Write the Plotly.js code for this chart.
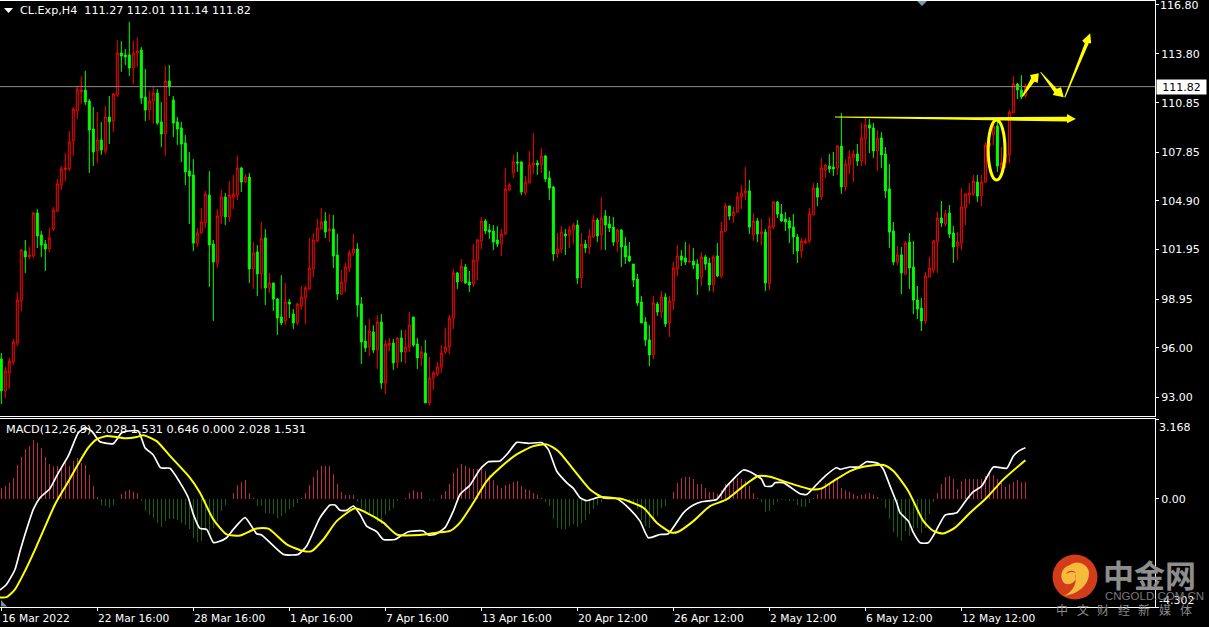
<!DOCTYPE html>
<html><head><meta charset="utf-8">
<script src="https://cdn.plot.ly/plotly-3.0.1.min.js"></script>
<style>html,body{margin:0;padding:0;background:#000}#c{width:1209px;height:627px}</style>
</head><body><div id="c"></div>
<script>
const barOpen=[95.31,93.38,94.47,95.13,96.28,98.83,101.86,101.50,101.56,104.16,
102.83,102.28,101.98,103.19,104.28,105.86,106.80,106.83,108.53,110.34,
111.50,111.62,110.95,109.25,107.92,108.59,107.92,109.98,109.74,111.31,
113.86,113.74,113.74,112.95,113.86,114.04,111.19,110.40,110.95,111.43,
109.68,108.95,112.16,111.01,109.68,109.31,108.40,106.71,106.47,102.34,
102.95,103.56,105.25,102.28,101.13,103.98,105.13,103.92,105.13,105.25,
106.89,106.04,106.34,100.77,101.80,100.47,102.65,99.62,99.92,98.95,
97.86,97.62,98.77,98.04,97.50,98.53,99.01,99.56,100.77,102.47,
103.19,103.68,103.07,103.19,101.62,99.25,99.98,100.83,101.74,101.98,
98.65,96.40,96.04,96.95,95.86,97.56,93.86,96.16,96.28,95.13,
96.59,95.74,96.04,97.86,96.22,95.38,95.68,92.65,94.16,94.40,
94.83,95.74,96.04,97.80,100.53,100.04,100.89,99.98,99.86,101.25,
102.47,103.68,103.13,103.07,102.53,102.28,102.89,105.56,106.59,107.25,
107.25,105.37,105.98,107.07,107.19,107.07,107.62,106.28,105.74,101.68,
101.98,102.89,102.83,103.13,103.43,100.22,102.28,102.10,102.71,103.74,
102.83,103.98,103.50,103.31,102.40,103.13,102.16,101.56,101.07,100.16,
98.77,97.56,96.47,95.56,98.65,98.16,99.07,97.50,98.83,100.77,
101.56,101.44,101.19,101.25,101.07,100.28,101.50,101.13,99.80,101.56,
100.34,103.07,104.59,103.98,104.22,105.13,105.37,105.50,102.83,103.68,
102.89,103.01,99.86,103.31,104.83,104.10,103.80,103.68,103.31,102.71,
101.86,102.34,102.47,104.04,105.68,105.13,106.77,107.01,106.95,106.89,
108.22,105.74,107.07,107.50,107.74,107.31,108.65,109.50,109.31,107.92,
108.71,107.74,105.62,103.07,101.19,101.62,100.47,102.40,100.89,98.89,
98.40,97.62,100.28,100.71,102.40,103.86,103.50,104.16,102.95,102.16,
102.34,104.47,105.25,105.31,106.04,105.19,106.04,108.22,108.89,109.43,
106.89,107.19,107.68,110.22,111.98,111.62,111.27];
const barHigh=[95.68,94.83,95.38,96.53,99.38,101.98,102.53,102.10,104.22,104.40,
103.07,102.53,103.25,104.53,106.22,107.01,107.80,109.13,110.59,111.86,
112.46,112.77,111.07,110.59,110.28,109.68,110.65,111.25,111.43,114.65,
114.59,114.10,115.74,114.59,114.83,114.22,112.89,111.56,111.80,111.68,
110.89,113.07,113.13,111.25,109.98,109.68,108.89,107.86,107.43,103.25,
104.47,105.50,106.71,102.53,104.40,105.56,105.37,106.10,106.47,107.62,
106.95,106.53,106.59,102.40,102.22,103.62,103.19,100.53,99.92,99.01,
100.40,99.92,98.95,98.34,98.71,99.74,99.74,102.65,102.95,103.80,
104.47,104.22,104.10,104.04,102.89,100.71,101.13,101.92,102.89,102.34,
99.07,97.37,97.74,97.37,97.98,98.04,96.47,96.59,96.53,96.59,
97.07,97.07,98.16,97.86,96.59,96.10,96.47,95.44,94.59,95.13,
96.16,97.19,97.98,100.77,100.59,101.37,101.07,100.65,102.28,102.59,
103.92,103.80,103.50,103.43,103.37,103.19,106.89,105.98,107.68,107.86,
107.31,106.40,107.92,109.01,107.37,108.10,107.68,106.71,105.80,102.95,
103.37,103.19,103.37,103.56,103.74,102.95,102.53,103.19,104.04,103.86,
105.13,104.34,103.98,103.92,103.19,103.19,102.71,102.40,101.07,100.47,
99.13,97.86,97.37,99.13,98.77,99.43,99.31,99.13,101.19,102.22,
101.92,102.40,102.28,102.04,101.37,101.80,101.62,101.44,101.62,102.34,
103.62,104.77,104.59,104.53,105.43,105.86,106.95,106.16,104.16,103.86,
103.80,103.19,103.92,104.89,104.89,104.71,104.22,103.92,104.10,102.89,
102.65,102.65,104.47,105.98,105.98,107.50,107.13,107.74,107.86,108.28,
110.22,107.43,107.98,107.98,108.34,109.62,109.92,109.86,109.62,109.19,
109.07,108.16,107.13,103.62,102.16,102.10,102.47,102.95,102.47,99.74,
99.01,100.59,101.50,102.53,104.22,104.89,104.34,104.65,103.37,103.01,
105.68,105.37,105.98,106.47,106.47,106.47,108.47,108.59,109.74,109.74,
108.16,107.98,110.40,112.46,112.04,112.52,112.01];
const barLow=[92.59,92.95,93.50,94.95,96.10,98.22,100.53,101.37,101.44,102.04,
101.50,100.65,101.80,103.07,104.22,105.56,106.10,106.71,107.62,109.86,
110.77,110.71,106.59,107.01,107.19,107.68,107.74,108.34,109.07,111.19,
112.71,113.13,112.46,111.98,113.01,110.77,109.74,109.80,109.56,109.50,
108.16,107.62,111.25,108.77,108.28,107.25,105.86,103.50,101.86,102.10,
102.89,103.25,99.68,97.62,100.83,103.50,103.43,103.62,104.40,104.95,
105.43,105.98,99.92,99.56,99.13,99.56,98.59,99.31,98.22,96.77,
97.37,97.37,97.80,97.13,97.37,98.28,97.44,99.50,100.28,102.40,
103.19,102.65,102.40,100.83,98.89,99.19,99.37,100.59,101.56,97.86,
95.01,95.74,95.50,95.68,94.71,93.50,93.19,95.80,94.65,94.77,
95.13,95.07,95.74,96.04,94.71,94.89,92.65,92.47,93.44,94.28,
94.47,95.62,95.62,97.13,99.56,99.98,99.86,99.37,99.68,100.10,
101.98,102.89,102.59,101.92,102.10,101.56,102.83,105.50,106.28,106.65,
105.25,105.25,105.98,106.52,106.47,106.59,106.04,104.95,101.25,101.44,
101.74,101.62,102.04,102.28,99.86,99.62,101.74,101.68,102.65,102.40,
101.92,101.92,103.01,102.16,101.80,100.89,101.07,101.19,99.68,98.53,
97.50,96.10,94.89,95.31,97.92,97.80,97.25,96.65,98.28,100.34,
100.95,101.01,101.13,100.77,99.19,99.74,100.71,99.43,99.37,100.28,
100.22,103.01,103.74,103.56,104.16,104.40,104.95,102.89,102.47,102.40,
102.22,99.43,99.50,103.19,103.86,103.62,103.07,102.34,101.68,101.13,
101.44,102.28,102.34,104.04,104.59,104.95,106.28,106.59,106.40,106.47,
105.31,105.50,106.52,106.04,107.01,107.01,107.07,107.80,107.50,106.71,
106.89,105.07,102.04,101.01,101.01,99.25,100.40,99.56,98.04,97.74,
97.01,97.44,100.28,100.53,100.53,103.31,103.37,102.65,101.13,101.31,
101.92,103.43,104.71,105.19,104.83,104.59,105.98,108.16,108.28,106.65,
106.34,106.89,107.19,110.22,111.07,111.07,111.14];
const barClose=[93.38,94.59,95.19,96.34,98.89,101.92,101.50,101.62,104.16,102.77,
102.22,101.98,102.65,104.34,105.92,106.83,106.89,108.47,110.46,111.68,
111.62,110.89,109.19,107.86,108.59,107.98,109.98,109.68,111.37,113.86,
113.68,113.62,112.95,113.86,113.98,111.13,110.40,110.95,111.43,109.62,
108.95,112.16,111.80,109.62,109.25,108.34,106.65,106.40,102.34,102.95,
103.62,105.31,102.22,101.19,103.98,105.13,103.92,105.25,105.31,106.89,
106.04,106.34,100.77,101.74,100.47,102.59,99.62,99.92,98.95,97.80,
97.50,98.77,98.65,97.50,98.65,99.07,99.62,100.83,102.53,103.25,
103.62,103.01,103.19,101.56,99.25,99.98,100.89,101.74,101.98,98.59,
96.34,95.98,97.01,95.86,97.56,93.86,96.22,96.28,95.07,96.59,
95.74,96.04,97.37,96.16,95.38,95.74,92.65,94.16,94.47,94.83,
95.68,96.04,97.80,100.53,99.98,100.95,99.92,99.80,101.31,102.53,
103.68,103.07,103.01,102.40,102.28,102.89,105.62,105.86,107.25,107.19,
105.43,106.04,107.07,107.19,107.07,107.62,106.22,105.68,101.68,101.98,
103.01,102.77,103.13,103.43,100.22,102.28,102.04,102.77,103.74,102.77,
103.86,103.43,103.25,102.40,103.13,102.10,101.50,101.25,100.10,98.71,
97.50,96.47,95.56,98.71,98.16,99.07,97.44,98.83,100.83,101.56,
101.31,101.19,101.25,101.01,100.16,101.50,101.07,99.80,101.50,100.34,
103.07,104.59,103.98,104.22,105.13,105.37,105.50,103.31,103.68,102.89,
103.01,99.92,103.37,104.83,104.10,103.68,103.62,103.25,102.71,101.86,
102.47,102.47,104.10,105.68,105.13,106.89,107.07,106.83,106.83,108.22,
105.74,107.13,107.56,107.74,107.31,108.71,109.50,109.31,107.92,108.71,
107.68,105.50,103.01,101.19,101.62,100.53,102.34,100.83,98.89,98.34,
97.62,100.34,100.83,102.47,103.86,103.56,104.10,102.89,102.10,102.40,
104.53,105.31,105.37,106.10,105.19,106.04,108.28,108.40,109.43,107.01,
107.19,107.74,110.28,111.98,111.62,111.19,111.82];
const histValues=[.41,.50,.64,.83,1.36,1.67,1.99,2.08,2.32,2.23,
2.03,1.66,1.39,1.30,1.32,1.30,1.47,1.30,1.50,1.60,
1.43,1.36,.94,.50,.08,-.23,-.29,-.38,-.25,0,
.20,.30,.33,.28,.24,-.09,-.49,-.65,-.78,-.95,
-1.13,-.89,-.82,-.82,-.86,-.95,-1.06,-1.22,-1.58,-1.72,
-1.66,-1.28,-1.31,-1.15,-.89,-.49,-.23,-.03,.24,.54,
.68,.73,.21,.01,-.29,-.29,-.56,-.58,-.62,-.75,
-.69,-.56,-.42,-.33,-.15,.04,.24,.53,.87,1.13,
1.32,1.32,1.30,.99,.57,.28,.13,.13,.13,-.12,
-.36,-.49,-.56,-.69,-.93,-1.02,-.66,-.49,-.36,-.09,
-.01,.04,.23,.33,.26,.26,-.01,-.07,-.07,-.01,
.15,.30,.60,1.02,1.23,1.39,1.32,1.21,1.17,1.17,
1.30,1.10,.94,.74,.54,.41,.54,.57,.66,.69,
.50,.37,.33,.24,.15,.04,-.12,-.29,-.82,-1.15,
-1.22,-1.19,-1.09,-1.02,-1.13,-.95,-.86,-.62,-.42,-.25,
-.12,-.01,-.01,-.01,-.02,-.03,-.09,-.16,-.20,-.42,
-.86,-1.09,-1.18,-.89,-.69,-.36,-.29,-.03,.28,.61,
.81,.85,.85,.77,.60,.57,.44,.25,.25,.17,
.33,.57,.66,.77,.83,.77,.70,.50,.24,.04,
-.13,-.53,-.49,-.25,-.12,-.05,-.07,-.09,-.09,-.23,
-.33,-.33,-.16,.04,.17,.41,.64,.64,.70,.77,
.41,.33,.26,.17,.11,.13,.20,.24,.13,.07,
-.05,-.38,-.82,-1.31,-1.52,-1.68,-1.28,-1.48,-1.15,-1.15,
-1.35,-1.15,-.62,-.12,.24,.57,.86,.90,.77,.37,
.70,.77,.77,.77,.77,.77,.90,1.07,.93,.79,
.64,.46,.57,.68,.73,.66,.646];
const macdBars=[-.33,1.33,3.42,4.67,5.92,8,9.67,12.17,14.25,16.75,19.25,20.92,22.58,24.67,28,30.08,31.75,34.25,35.92,38,39.83,42.17,44.67,46.75,48,49.67,51.33,53,54.25,56.33,58,60.92,63.83,65.08,70.5,74.25,76.33,79.67,82.17,83.42,84.67,86.33,88,89.67,91.33,93.83,95.5,98.42,99.67,101.75,105.5,106.75,108.42,110.92,113,114.67,117.17,119.67,121.75,124.67,126.75,128.83,131.75,135.08,136.75,138.83,141.33,143,144.67,146.33,149.67,153.83,157.17,159.67,161.75,164.67,166.75,170.5,173,175.08,178.83,181.33,185.5,187.17,190.08,190.92,192.58,193.42,195.5,199.67,201.33,203.42,205.92,208.83,209.67,212.17,214.25,216.33,219.25,220.5,222.17,223.83,224.67,226.75,228,229.67,231.75,233.42,235.92,238.83,241.33,243,245.08,248,251.33,253,254.67,256];
const macdValues=[-3.63,-3.40,-2.81,-2.09,-1.42,-.42,.04,.41,1.03,1.70,2.62,2.82,2.69,2.26,2.19,2.62,2.69,2.69,2.03,1.74,1.23,1.21,.64,.04,-.62,-1.18,-1.22,-1.74,-1.71,-1.55,-1.22,-.75,-1.39,-1.44,-2.21,-2.21,-1.88,-.75,-.25,-.25,-.46,-.46,-.29,-.62,-1.09,-1.31,-1.62,-1.62,-1.50,-1.31,-1.28,-1.44,-1.42,-1.15,-.49,.17,.54,1.17,1.47,1.50,1.83,2.24,2.20,2.23,1.96,1.10,.64,.41,.04,-.08,.07,.01,-.42,-.89,-1.55,-1.42,-1.39,-.56,-.25,-.12,-.03,.50,1.14,1.07,.77,.50,.50,.64,.64,.20,.17,.50,.90,1.23,1.17,1.26,1.26,1.47,1.40,1.17,.50,-.16,-.56,-.89,-1.35,-1.75,-1.75,-1.35,-.65,-.56,-.03,.28,.50,1.26,1.21,1.70,1.93,2.028];
const signalBars=[-.33,1.33,3.42,5.92,8.83,13.42,16.33,19.67,21.75,23.83,26.33,28.83,31.33,33.83,35.5,38.83,42.17,47.17,49.67,53,56.33,59.67,63.83,66.75,71.33,75.5,77.58,80.5,83.83,88.42,91.33,95.5,98.83,104.67,108.83,112.17,114.67,118,121.33,124.67,128.83,133,136.33,139.25,143,147.17,150.5,154.67,160.5,163.83,167.58,169.25,173,177.17,181.33,185.5,189.25,192.17,195.5,199.67,202.58,205.08,208,212.17,215.5,220.5,223,226.75,230.5,233,235.5,238.42,242.17,246.33,250.5,256];
const signalValues=[-3.92,-3.91,-3.60,-2.87,-1.88,-.23,.57,1.50,2.03,2.36,2.49,2.45,2.40,2.45,2.52,2.29,1.70,.83,.24,-.82,-1.42,-1.46,-1.18,-1.19,-1.81,-2.08,-2.08,-1.62,-.89,-.38,-.56,-.95,-1.42,-1.44,-1.35,-1.28,-.95,-.16,.70,1.23,1.76,2.09,2.16,1.89,1.17,.37,.04,.01,-.36,-.95,-1.35,-1.31,-.89,-.29,-.03,.50,.90,.87,.70,.49,.37,.41,.70,1.10,1.27,1.34,1.10,.30,-.89,-1.28,-1.38,-1.15,-.56,.04,.77,1.531];
const priceTicks=[116.80,113.80,110.85,107.85,104.90,101.95,98.95,96.00,93.00];
const priceTickLabels=['','113.80','110.85','107.85','104.90','101.95','98.95','96.00','93.00'];
const timeTickBars=[0,24,48,72,96,120,144,168,192,216,240];
const timeTickLabels=['16 Mar 2022','22 Mar 16:00','28 Mar 16:00','1 Apr 16:00','7 Apr 16:00','13 Apr 16:00','20 Apr 12:00','26 Apr 12:00','2 May 12:00','6 May 12:00','12 May 12:00'];
const lastPrice=111.82;
const arrowPolys=[
 [[208.4,110.01],[243.4,109.97],[266.4,110.00],[266.4,110.16],[268.6,109.86],[266.4,109.60],[266.4,109.70],[243.4,109.80],[208.4,109.95]],
 [[255.1,111.25],[257.4,112.32],[257.2,112.53],[259.35,112.63],[259.1,112.06],[258.25,112.12],[255.4,111.2]],
 [[259.7,112.69],[263.2,111.48],[262.85,111.31],[265.6,111.17],[264.9,111.78],[263.85,111.69],[259.9,112.71]],
 [[265.7,111.17],[270.85,114.45],[270.2,114.6],[272.2,115.05],[272.45,114.45],[271.85,114.45],[266.0,111.17]]
];

const W=1209,H=627,fx=px=>px/W,fy=py=>1-py/H;
const UI='DejaVu Sans';
const bars=barOpen.map((_,i)=>i);
const xr=[-0.325,288.4];
const traces=[
 {type:'bar',x:bars,y:histValues,xaxis:'x2',yaxis:'y2',width:0.25,
  marker:{color:histValues.map(v=>v>=0?'#c0284a':'#16600f'),line:{width:0}},hoverinfo:'skip'},
 {type:'scatter',mode:'lines',x:macdBars,y:macdValues,xaxis:'x2',yaxis:'y2',line:{color:'#ffffff',width:1.7,shape:'spline',smoothing:0.5},hoverinfo:'skip'},
 {type:'scatter',mode:'lines',x:signalBars,y:signalValues,xaxis:'x2',yaxis:'y2',line:{color:'#ffff00',width:2,shape:'spline',smoothing:0.6},hoverinfo:'skip'},
 {type:'candlestick',x:bars,open:barOpen,high:barHigh,low:barLow,close:barClose,xaxis:'x',yaxis:'y',whiskerwidth:0,
  increasing:{line:{color:'#ff0000',width:1},fillcolor:'#000000'},
  decreasing:{line:{color:'#00ff00',width:1},fillcolor:'#00ff00'},hoverinfo:'skip'}
];
const ax={color:'#fff',linecolor:'#fff',showgrid:false,zeroline:false,showline:true,mirror:true,linewidth:1};
const txt=(s,px,py,o={})=>Object.assign({text:s,xref:'paper',yref:'paper',x:fx(px),y:fy(py),xanchor:'left',yanchor:'middle',showarrow:false,borderpad:0,font:{family:UI,size:11,color:'#fff'}},o);
const annotations=[
 txt('CL.Exp,H4\u00a0\u00a0111.27 112.01 111.14 111.82',19,10,{font:{family:UI,size:11.15,color:'#fff'}}),
 txt('MACD(12,26,9) 2.028 1.531 0.646 0.000 2.028 1.531',5,429,{font:{family:UI,size:11.25,color:'#fff'}}),
 txt('116.80',1159,5),
 txt('3.168',1158,427),
 txt('-4.302',1158,600),
 {text:'111.82',xref:'paper',yref:'y',x:fx(1156),y:lastPrice,xanchor:'left',yanchor:'middle',showarrow:false,bgcolor:'#fff',width:49,height:14,align:'center',borderpad:0,font:{family:UI,size:11,color:'#000'}},
 txt('中金网',1102,573,{font:{family:'Noto Sans CJK SC',size:31,color:'#8e8e8e',weight:700}}),
 txt('CNGOLD.COM.CN',1104,596,{font:{family:'Liberation Sans',size:11.5,color:'#7a7a7a'}})
];
timeTickBars.forEach((b,i)=>annotations.push({text:timeTickLabels[i],xref:'x2',yref:'paper',x:b,y:fy(618),xanchor:'left',yanchor:'middle',showarrow:false,borderpad:0,font:{family:UI,size:10.7,color:'#fff'}}));
['中','文','财','经','新','媒','体'].forEach((c,i)=>annotations.push(txt(c,1055+i*20.6,609,{font:{family:'Noto Sans CJK SC',size:12,color:'#8a8a8a'}})));
const pxPath=pts=>pts.map((p,i)=>(i?'L':'M')+fx(p[0])+' '+fy(p[1])).join(' ')+' Z';
const shapes=[
 {type:'line',xref:'x',yref:'y',x0:xr[0],x1:xr[1],y0:lastPrice,y1:lastPrice,line:{color:'#8c8c8c',width:1}},
 {type:'circle',xref:'x',yref:'y',x0:246.7,x1:250.9,y0:106.16,y1:109.80,line:{color:'#ffff00',width:3},fillcolor:'rgba(0,0,0,0)'},
 {type:'path',xref:'paper',yref:'paper',path:pxPath([[4,8],[13,8],[8.5,13]]),fillcolor:'#fff',line:{width:0}},
 {type:'path',xref:'paper',yref:'paper',path:pxPath([[917,1],[927,1],[922,6]]),fillcolor:'#7f97a8',line:{width:0}},
 {type:'path',xref:'paper',yref:'paper',path:pxPath([[1,600],[7,606.5],[1,606.5]]),fillcolor:'#7f8f9f',line:{width:0}},
 {type:'circle',xref:'paper',yref:'paper',x0:fx(1052.5),x1:fx(1097.5),y0:fy(599.5),y1:fy(554.5),fillcolor:'#d23c1a',line:{width:0}},
 {type:'path',xref:'paper',yref:'paper',fillcolor:'#f4bb3c',line:{width:0},
  path:`M${fx(1064)} ${fy(596)} C${fx(1077)} ${fy(594)} ${fx(1089)} ${fy(586)} ${fx(1089)} ${fy(573)} C${fx(1089)} ${fy(564)} ${fx(1076)} ${fy(559)} ${fx(1070)} ${fy(565)} C${fx(1061)} ${fy(567)} ${fx(1059)} ${fy(578)} ${fx(1064)} ${fy(583)} C${fx(1070)} ${fy(587)} ${fx(1079)} ${fy(580)} ${fx(1075)} ${fy(574)} C${fx(1077)} ${fy(582)} ${fx(1075)} ${fy(590)} ${fx(1064)} ${fy(596)} Z`},
 {type:'path',xref:'paper',yref:'paper',fillcolor:'#d23c1a',line:{width:0},
  path:`M${fx(1066)} ${fy(574)} C${fx(1068)} ${fy(570)} ${fx(1074)} ${fy(570)} ${fx(1076)} ${fy(573)} C${fx(1072)} ${fy(571)} ${fx(1069)} ${fy(572)} ${fx(1066)} ${fy(574)} Z`}
];
arrowPolys.forEach(poly=>shapes.push({type:'path',xref:'x',yref:'y',fillcolor:'#ffff00',line:{width:0},
 path:poly.map((p,i)=>(i?'L':'M')+p[0]+' '+p[1]).join(' ')+' Z'}));
const layout={
 width:W,height:H,margin:{l:0,r:0,t:0,b:0},paper_bgcolor:'#000',plot_bgcolor:'#000',showlegend:false,bargap:0,hovermode:false,
 xaxis:Object.assign({},ax,{domain:[0,1155/W],range:xr,type:'linear',anchor:'y',showticklabels:false,ticks:'',rangeslider:{visible:false}}),
 yaxis:Object.assign({},ax,{domain:[fy(416),fy(1)],range:[91.86,117.01],anchor:'x',side:'right',tickmode:'array',tickvals:priceTicks,ticktext:priceTickLabels,ticks:'outside',ticklen:3,tickcolor:'#fff',tickfont:{family:UI,size:11,color:'#fff'}}),
 xaxis2:Object.assign({},ax,{domain:[0,1155/W],range:xr,type:'linear',anchor:'y2',tickmode:'array',tickvals:timeTickBars,ticktext:timeTickBars.map(()=>''),ticks:'outside',ticklen:3,tickcolor:'#fff'}),
 yaxis2:Object.assign({},ax,{domain:[fy(607),fy(419)],range:[-4.302,3.168],anchor:'x2',side:'right',tickmode:'array',tickvals:[3.168,0,-4.302],ticktext:['','0.00',''],ticks:'outside',ticklen:3,tickcolor:'#fff',tickfont:{family:UI,size:11,color:'#fff'}}),
 annotations,shapes
};
Plotly.newPlot('c',traces,layout,{displayModeBar:false,staticPlot:true});
</script></body></html>
